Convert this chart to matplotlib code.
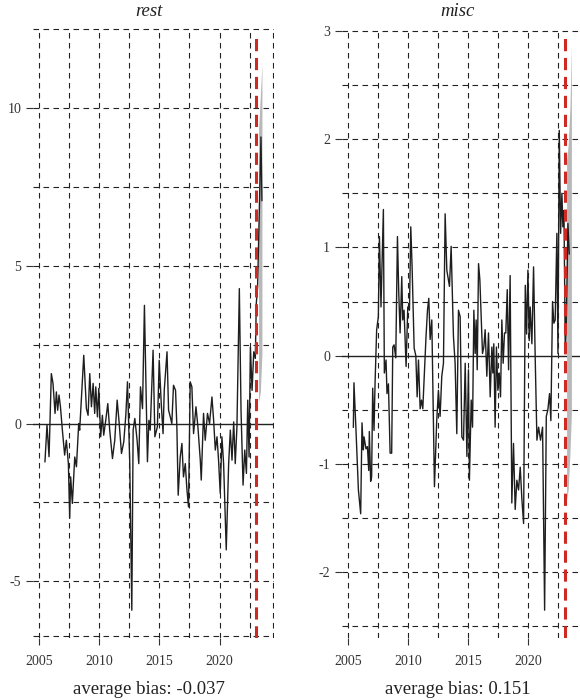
import matplotlib
matplotlib.use("Agg")
import matplotlib.pyplot as plt

plt.rcParams['font.family'] = ['Liberation Serif', 'DejaVu Serif']
plt.rcParams['axes.unicode_minus'] = False

# ---- data ----
rest_t = [2005.47, 2005.64, 2005.81, 2006.00, 2006.14, 2006.31, 2006.42, 2006.53, 2006.64, 2006.76,
          2006.92, 2007.11, 2007.25, 2007.42, 2007.53, 2007.61, 2007.75, 2007.95, 2008.09, 2008.28,
          2008.36, 2008.70, 2008.92, 2009.06, 2009.20, 2009.34, 2009.48, 2009.61, 2009.70, 2009.84,
          2009.95, 2010.11, 2010.25, 2010.36, 2010.53, 2010.70, 2010.86, 2011.09, 2011.28, 2011.48,
          2011.64, 2011.84, 2012.03, 2012.20, 2012.34, 2012.53, 2012.70, 2012.81, 2012.95, 2013.14,
          2013.28, 2013.42, 2013.59, 2013.75, 2014.00, 2014.12, 2014.23, 2014.47, 2014.62, 2014.83,
          2014.98, 2015.15, 2015.30, 2015.40, 2015.63, 2015.76, 2015.90, 2016.03, 2016.17, 2016.34,
          2016.45, 2016.56, 2016.73, 2016.87, 2017.00, 2017.15, 2017.29, 2017.42, 2017.56, 2017.70,
          2017.84, 2018.04, 2018.20, 2018.40, 2018.48, 2018.67, 2018.81, 2019.00, 2019.17, 2019.37,
          2019.51, 2019.65, 2019.79, 2019.92, 2020.06, 2020.20, 2020.34, 2020.56, 2020.76, 2020.90,
          2021.04, 2021.18, 2021.31, 2021.45, 2021.65, 2021.79, 2021.96, 2022.10, 2022.24, 2022.35,
          2022.46, 2022.57, 2022.71, 2022.85, 2022.98, 2023.06, 2023.17, 2023.45, 2023.53]
rest_v = [-1.21, -0.05, -1.05, 1.58, 1.27, 0.32, 1.00, 0.42, 0.90, 0.53,
          -0.21, -1.00, -0.53, -1.27, -3.00, -1.69, -2.53, -1.06, -1.37, 0.00,
          -0.21, 2.16, 0.47, 0.26, 1.58, 0.53, 1.27, 0.32, 1.16, 0.21,
          1.11, -0.42, 0.26, -0.37, 0.10, 0.63, -0.21, -1.11, -0.53, 0.74,
          0.05, -0.95, -0.58, 0.26, 1.32, -1.27, -5.91, -0.21, 0.16, -0.53,
          -1.27, 1.16, 0.47, 3.74, -1.21, 0.10, -0.21, 2.32, -0.42, -0.10,
          2.00, 0.63, -0.32, 1.05, 2.27, 0.42, 0.21, 0.00, 1.21, 1.05,
          -0.10, -2.27, -1.06, -0.63, -1.69, -1.27, -2.11, -2.64, 1.32, 1.16,
          -0.32, 0.53, -0.10, -1.16, -1.79, 0.32, -0.53, 0.32, 0.00, 0.84,
          0.10, -0.84, -0.42, -1.16, -2.21, -0.42, -1.27, -4.00, -1.27, -0.21,
          -1.16, 0.05, -1.27, -0.10, 4.27, 0.42, -1.95, -0.84, -1.58, 0.74,
          -1.06, 2.42, 1.05, 2.27, 2.06, 3.80, 4.32, 9.07, 7.06]
rest_band_t = [2023.25, 2023.40, 2023.53]
rest_band_lo = [0.68, 1.00, 2.20]
rest_band_hi = [9.30, 10.40, 11.40]

misc_t = [2005.47, 2005.52, 2005.69, 2005.89, 2006.08, 2006.19, 2006.30, 2006.36, 2006.52, 2006.64,
          2006.75, 2006.80, 2006.91, 2006.99, 2007.08, 2007.19, 2007.28, 2007.41, 2007.55, 2007.64,
          2007.77, 2007.97, 2008.05, 2008.19, 2008.27, 2008.39, 2008.53, 2008.66, 2008.75, 2008.86,
          2009.00, 2009.14, 2009.25, 2009.36, 2009.50, 2009.58, 2009.69, 2009.86, 2010.00, 2010.14,
          2010.25, 2010.36, 2010.53, 2010.67, 2010.78, 2010.89, 2011.03, 2011.14, 2011.25, 2011.36,
          2011.52, 2011.64, 2011.75, 2011.86, 2012.00, 2012.14, 2012.22, 2012.41, 2012.55, 2012.69,
          2012.83, 2012.97, 2013.11, 2013.25, 2013.47, 2013.61, 2013.80, 2013.94, 2014.08, 2014.22,
          2014.36, 2014.50, 2014.64, 2014.78, 2014.92, 2015.05, 2015.13, 2015.28, 2015.39, 2015.50,
          2015.61, 2015.69, 2015.78, 2015.89, 2016.00, 2016.11, 2016.22, 2016.33, 2016.44, 2016.58,
          2016.72, 2016.86, 2017.00, 2017.08, 2017.16, 2017.27, 2017.38, 2017.50, 2017.61, 2017.72,
          2017.83, 2017.94, 2018.05, 2018.16, 2018.28, 2018.39, 2018.52, 2018.66, 2018.80, 2018.94,
          2019.08, 2019.22, 2019.36, 2019.50, 2019.64, 2019.78, 2019.89, 2020.00, 2020.11, 2020.19,
          2020.33, 2020.47, 2020.61, 2020.75, 2020.89, 2021.05, 2021.22, 2021.39, 2021.53, 2021.66,
          2021.80, 2021.91, 2022.05, 2022.16, 2022.27, 2022.41, 2022.50, 2022.61, 2022.72, 2022.83,
          2022.91, 2023.00, 2023.11, 2023.19, 2023.33, 2023.44]
misc_v = [-0.66, -0.25, -0.69, -1.24, -1.46, -0.62, -0.87, -0.75, -0.86, -0.84,
          -1.06, -0.70, -1.16, -1.12, -0.30, -0.69, -0.24, 0.24, 0.36, 1.10,
          0.45, 1.35, -0.16, -0.04, -0.35, -0.26, -0.90, -0.90, 0.08, 0.10,
          -0.02, 1.10, 0.58, 0.21, 0.73, 0.33, 0.42, -0.10, 0.45, 0.42,
          1.19, 0.82, 0.07, 0.00, -0.38, -0.04, -0.49, -0.41, -0.49, -0.22,
          0.18, 0.42, 0.53, 0.15, 0.33, -0.69, -1.21, -0.60, -0.32, -0.56,
          -0.19, -0.07, 1.31, 0.79, 0.64, 1.01, 0.18, -0.07, -0.72, 0.42,
          0.36, -0.75, -0.78, -0.07, -0.93, -0.13, -1.15, -0.41, -0.66, 0.42,
          0.02, 0.33, -0.13, 0.85, 0.70, 0.36, 0.02, 0.08, 0.24, -0.19,
          0.21, -0.38, 0.08, -0.16, 0.11, -0.66, 0.08, -0.32, -0.16, -0.38,
          0.33, -0.07, 0.21, 0.21, 0.61, -0.13, 0.74, -1.36, -0.81, -1.42,
          -1.15, -1.24, -1.03, -1.33, -1.55, 0.65, 0.20, 0.79, 0.14, 0.45,
          0.11, 0.82, -0.04, -0.78, -0.66, -0.78, -0.66, -2.35, -0.56, -0.50,
          -0.35, -0.60, 0.50, 0.30, 0.33, 1.13, 0.02, 2.08, 1.13, 1.50,
          1.19, 1.34, 0.02, 0.27, 1.22, 0.94]
misc_band_t = [2023.22, 2023.35, 2023.50, 2023.62]
misc_band_lo = [-1.33, -1.24, -0.90, -0.53]
misc_band_hi = [1.80, 1.95, 2.30, 2.87]

cutoff = 2023.05
xgrid = [2005, 2007.5, 2010, 2012.5, 2015, 2017.5, 2020, 2022.5, 2024.45]
xticks = [2005, 2010, 2015, 2020]

fig = plt.figure(figsize=(5.8, 7.0), dpi=100)


def panel(left_px, t, v, bt, blo, bhi, ylim, yticks, ygrid, title, bias):
    ax = fig.add_axes([left_px / 580, 62 / 700, 241 / 580, 610 / 700])
    ax.set_xlim(2004.5, 2024.56)
    ax.set_ylim(*ylim)
    for s in ax.spines.values():
        s.set_visible(False)
    grid_kw = dict(color='#222222', lw=0.8, linestyle=(0, (5, 4)), zorder=1)
    for g in xgrid:
        ax.axvline(g, **grid_kw)
    for g in ygrid:
        ax.axhline(g, **grid_kw)
    ax.axhline(0, color='#222222', lw=1.0, zorder=2)
    ax.fill_between(bt, blo, bhi, color='#b8b8b8', lw=0, zorder=3)
    ax.plot(t, v, color='#1e1e1e', lw=1.0, zorder=4)
    ax.axvline(cutoff, ymin=0, ymax=0.994, color='#cc2a22', lw=2.2,
               linestyle=(0, (4, 2.2)), zorder=5)
    ax.set_xticks(xticks)
    ax.set_yticks(yticks)
    ax.set_yticklabels([str(y) for y in yticks])
    ax.tick_params(direction='out', length=5, width=0.8, color='#333333',
                   labelsize=10, labelcolor='#333333')
    ax.tick_params(axis='x', pad=7)
    ax.tick_params(axis='y', pad=3.5)
    cx = (left_px - 33.3 + 149) / 580
    fig.text(cx, 1 - 12 / 700, title, ha='center', va='center',
             fontsize=13.5, style='italic', color='#222222')
    fig.text(cx, 1 - 689 / 700, bias, ha='center', va='center',
             fontsize=13.5, color='#222222')
    return ax


panel(33.3, rest_t, rest_v, rest_band_t, rest_band_lo, rest_band_hi,
      (-6.79, 12.52), [-5, 0, 5, 10],
      [12.5, 10, 7.5, 5, 2.5, -2.5, -5, -6.73], 'rest', 'average bias: -0.037')
panel(341.7, misc_t, misc_v, misc_band_t, misc_band_lo, misc_band_hi,
      (-2.607, 3.026), [-2, -1, 0, 1, 2, 3],
      [3, 2.5, 2, 1.5, 1, 0.5, -0.5, -1, -1.5, -2, -2.5], 'misc', 'average bias: 0.151')

fig.savefig('out.png', dpi=100)
